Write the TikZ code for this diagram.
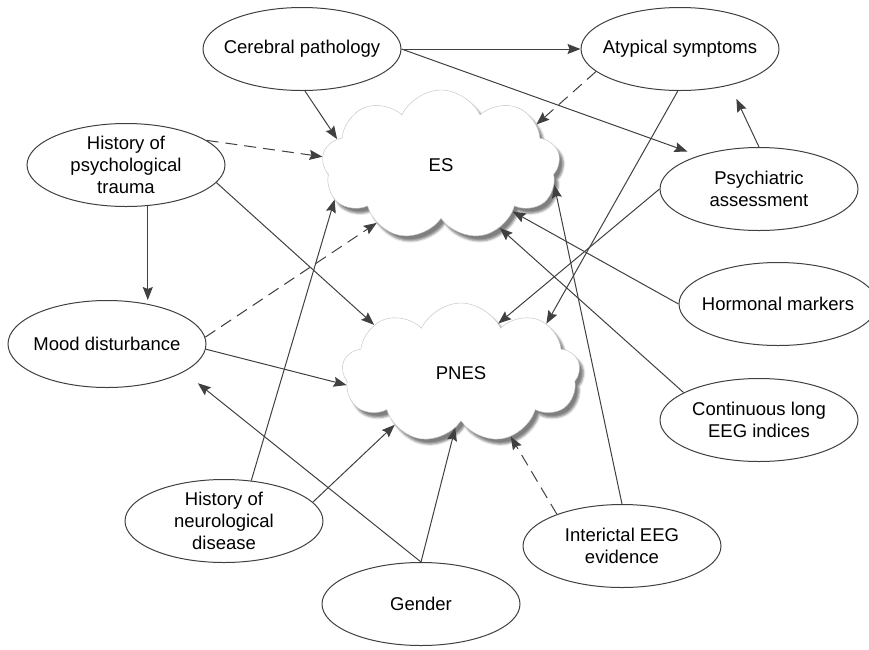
\documentclass[tikz,border=0pt]{standalone}
\usepackage{fontspec}
\setmainfont{Liberation Sans}
\usepackage{tikz}
\usetikzlibrary{arrows.meta}
\usetikzlibrary{shapes.geometric}
\usetikzlibrary{shapes.symbols}
\usetikzlibrary{shadows.blur}

\begin{document}
\begin{tikzpicture}[x=1pt,y=-1pt]
\tikzstyle{every node}=[font=\fontsize{18.5}{22}\selectfont]
\tikzstyle{factor}=[ellipse, draw=black!75, line width=1pt, fill=white, minimum width=198pt, minimum height=83pt, inner xsep=-12pt, inner ysep=-5pt, align=center]
\tikzstyle{cloudy}=[cloud, cloud puffs=9, cloud puff arc=130, cloud ignores aspect, draw=black!25, fill=white, minimum width=238pt, minimum height=150pt, blur shadow={shadow xshift=4pt, shadow yshift=-5pt, shadow opacity=50}]
\tikzstyle{link}=[draw=black!75, line width=1pt, -{Stealth[length=13pt, width=10pt, inset=2pt]}]
\tikzstyle{weak}=[link, dash pattern=on 12pt off 7pt]
\useasboundingbox (0,0) rectangle (869,649);
\node [cloudy] (ES) at (441,165) {ES};
\node [cloudy, minimum height=140pt] (PNES) at (461,373) {PNES};
\node [factor] (cereb) at (302,49) {Cerebral pathology};
\node [factor] (atyp) at (680,49) {Atypical symptoms};
\node [factor] (psytr) at (126,165) {History of\\psychological\\trauma};
\node [factor] (psyas) at (759,189) {Psychiatric\\assessment};
\node [factor] (horm) at (778,304) {Hormonal markers};
\node [factor, minimum height=87pt] (mood) at (107,344) {Mood disturbance};
\node [factor] (contin) at (759,420) {Continuous long\\EEG indices};
\node [factor] (neuro) at (224,521) {History of\\neurological\\disease};
\node [factor] (inter) at (622,546) {Interictal EEG\\evidence};
\node [factor] (gender) at (421,604) {Gender};
\draw [link] (cereb.east) -- (atyp.west);
\draw [link, shorten >=12pt] (cereb.east) -- (psyas.151);
\draw [link] (cereb.-86) -- (ES.166);
\draw [weak] (atyp.-165) -- (ES.23);
\draw [link] (atyp.-93) -- (PNES.30);
\draw [link, shorten >=15pt] (psyas.north) -- (atyp.-36);
\draw [link] (psyas.west) -- (PNES.53);
\draw [link] (horm.west) -- (ES.-33);
\draw [link] (contin.160) -- (ES.-47);
\draw [link] (inter.north) -- (ES.-10);
\draw [weak] (inter.154) -- (PNES.-52);
\draw [weak] (psytr.17) -- (ES.176);
\draw [link] (psytr.-62) -- (psytr.-62 |- mood.north);
\draw [link] (psytr.-11) -- (PNES.151);
\draw [weak] (mood.4) -- (ES.222);
\draw [link] (mood.-3) -- (PNES.186);
\draw [link] (neuro.56) -- (ES.198);
\draw [link] (neuro.12) -- (PNES.218);
\draw [link, shorten >=18pt] (gender.north) -- (mood.-20);
\draw [link] (gender.north) -- (PNES.264);
\end{tikzpicture}
\end{document}
